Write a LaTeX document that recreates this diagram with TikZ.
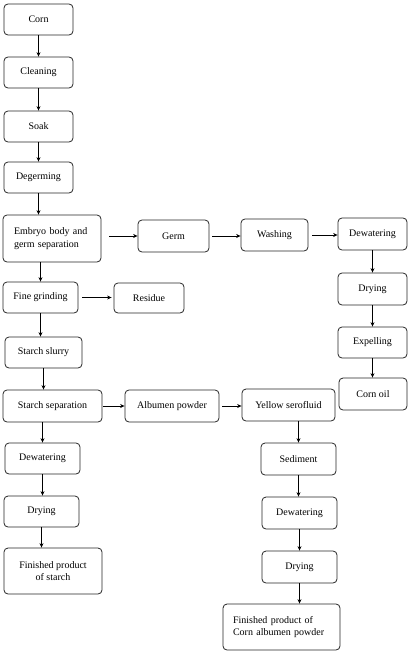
\documentclass[tikz,border=0pt]{standalone}
\usepackage{fontspec}
\setmainfont{Liberation Serif}
\usetikzlibrary{arrows.meta}
\begin{document}
\begin{tikzpicture}[x=1pt,y=-1pt,
  box/.style={draw=black!85, line width=0.8pt, rounded corners=4pt, inner sep=2pt,
    font=\fontsize{10}{12.5}\selectfont, align=center},
  lbox/.style={box, align=left},
  arr/.style={line width=1pt, -{Stealth[length=4.5pt,width=4pt]}}]
\useasboundingbox (0,0) rectangle (410,653);
% left column
\node[box, minimum width=69pt, minimum height=31pt] (corn) at (38.5,19.5) {Corn};
\node[box, minimum width=69pt, minimum height=31pt] (clean) at (38.5,72.5) {Cleaning};
\node[box, minimum width=69pt, minimum height=31pt] (soak) at (38.5,126.5) {Soak};
\node[box, minimum width=69pt, minimum height=31pt] (deg) at (38.5,177.5) {Degerming};
\node[lbox, minimum width=98pt, minimum height=47pt, text width=76pt] (emb) at (52,238.5) {Embryo body and\\germ separation};
\node[box, minimum width=75pt, minimum height=31pt] (fine) at (40.5,297.5) {Fine grinding};
\node[box, minimum width=70pt, minimum height=30pt] (res) at (149,298) {Residue};
\node[box, minimum width=77pt, minimum height=31pt] (slurry) at (43.5,352.5) {Starch slurry};
\node[box, minimum width=99pt, minimum height=32pt] (ssep) at (52.5,406) {Starch separation};
\node[box, minimum width=75pt, minimum height=31pt] (dewl) at (42.5,458.5) {Dewatering};
\node[box, minimum width=75pt, minimum height=31pt] (dryl) at (41.5,511.5) {Drying};
\node[box, minimum width=98pt, minimum height=46pt] (fins) at (53,571) {Finished product\\of starch};
% germ row
\node[box, minimum width=71pt, minimum height=32pt] (germ) at (173.5,236) {Germ};
\node[box, minimum width=67pt, minimum height=32pt] (wash) at (274.5,235) {Washing};
\node[box, minimum width=69pt, minimum height=32pt] (dewr) at (372.5,234) {Dewatering};
\node[box, minimum width=69pt, minimum height=32pt] (dryr) at (372.5,289) {Drying};
\node[box, minimum width=69pt, minimum height=31pt] (exp) at (372.5,342.5) {Expelling};
\node[box, minimum width=68pt, minimum height=32pt] (oil) at (373,394) {Corn oil};
% albumen
\node[box, minimum width=94pt, minimum height=32pt] (alb) at (172,406) {Albumen powder};
\node[box, minimum width=93pt, minimum height=32pt] (yel) at (288.5,405) {Yellow serofluid};
\node[box, minimum width=75pt, minimum height=32pt] (sed) at (298.5,459) {Sediment};
\node[box, minimum width=75pt, minimum height=32pt] (dewm) at (299.5,513) {Dewatering};
\node[box, minimum width=75pt, minimum height=32pt] (drym) at (299.5,567) {Drying};
\node[lbox, minimum width=117pt, minimum height=46pt, text width=97pt] (fina) at (281.5,627) {Finished product of\\Corn albumen powder};
% vertical arrows
\draw[arr] (corn.south) -- (corn.south |- clean.north);
\draw[arr] (clean.south) -- (clean.south |- soak.north);
\draw[arr] (soak.south) -- (soak.south |- deg.north);
\draw[arr] (deg.south) -- (deg.south |- emb.north);
\draw[arr] (fine.north |- emb.south) -- (fine.north);
\draw[arr] (fine.south) -- (fine.south |- slurry.north);
\draw[arr] (slurry.south) -- (slurry.south |- ssep.north);
\draw[arr] (dewl.north |- ssep.south) -- (dewl.north);
\draw[arr] (dewl.south) -- (dewl.south |- dryl.north);
\draw[arr] (dryl.south) -- (dryl.south |- fins.north);
\draw[arr] (dewr.south) -- (dewr.south |- dryr.north);
\draw[arr] (dryr.south) -- (dryr.south |- exp.north);
\draw[arr] (exp.south) -- (exp.south |- oil.north);
\draw[arr] (sed.north |- yel.south) -- (sed.north);
\draw[arr] (sed.south) -- (sed.south |- dewm.north);
\draw[arr] (dewm.south) -- (dewm.south |- drym.north);
\draw[arr] (drym.south) -- (drym.south |- fina.north);
% horizontal arrows
\draw[arr] ([xshift=8pt]emb.east |- germ.west) -- (germ.west);
\draw[arr] ([xshift=3pt]germ.east) -- (germ.east -| wash.west);
\draw[arr] ([xshift=4pt]wash.east) -- (wash.east -| dewr.west);
\draw[arr] ([xshift=4pt]fine.east) -- ([xshift=-2pt]fine.east -| res.west);
\draw[arr] ([xshift=1pt]ssep.east) -- (ssep.east -| alb.west);
\draw[arr] ([xshift=3pt]alb.east) -- (alb.east -| yel.west);
\end{tikzpicture}
\end{document}
